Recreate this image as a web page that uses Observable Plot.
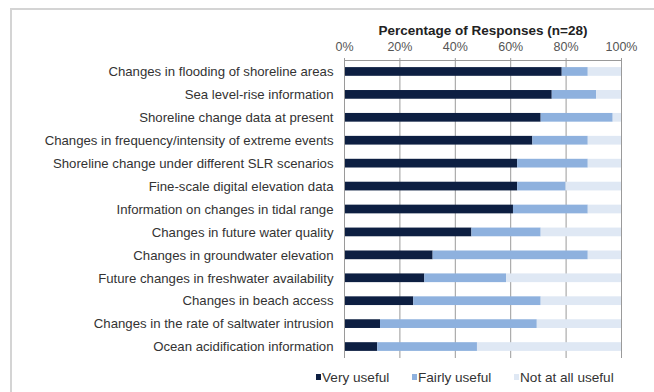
<!DOCTYPE html>
<html>
<head>
<meta charset="utf-8">
<script src="https://cdn.jsdelivr.net/npm/d3@7"></script>
<script src="https://cdn.jsdelivr.net/npm/@observablehq/plot@0.6"></script>
<style>
  html, body { margin: 0; padding: 0; background: #fff; }
  body { font-family: "Liberation Sans", Arial, Helvetica, sans-serif; }
  #wrap { position: relative; width: 654px; height: 392px; overflow: hidden; }
  #border { position: absolute; left: 10px; top: 8px; width: 700px; height: 400px;
            border-top: 2px solid #d4d4d4; border-left: 2px solid #d4d4d4; box-sizing: border-box; }
  #chart { position: absolute; left: 0; top: 0; }
  #legend { position: absolute; left: 0; top: 366px; width: 654px; height: 24px;
            font-size: 13.6px; color: #333; }
  .item { position: absolute; top: 4px; white-space: nowrap; }
  .sw { display: inline-block; width: 5px; height: 6px; margin-right: 1px; vertical-align: 2px; }
</style>
</head>
<body>
<div id="wrap">
  <div id="border"></div>
  <div id="chart"></div>
  <div id="legend"></div>
</div>
<script>
const categories = [
  "Changes in flooding of shoreline areas",
  "Sea level-rise information",
  "Shoreline change data at present",
  "Changes in frequency/intensity of extreme events",
  "Shoreline change under different SLR scenarios",
  "Fine-scale digital elevation data",
  "Information on changes in tidal range",
  "Changes in future water quality",
  "Changes in groundwater elevation",
  "Future changes in freshwater availability",
  "Changes in beach access",
  "Changes in the rate of saltwater intrusion",
  "Ocean acidification information"
];
const veryUseful   = [78.6, 75.0, 71.0, 68.0, 62.5, 62.5, 61.0, 46.0, 32.0, 29.0, 25.0, 13.0, 12.0];
const fairlyUseful = [ 9.4, 16.0, 26.0, 20.0, 25.5, 17.5, 27.0, 25.0, 56.0, 29.5, 46.0, 56.6, 36.0];
const notAtAll     = [12.0,  9.0,  3.0, 12.0, 12.0, 20.0, 12.0, 29.0, 12.0, 41.5, 29.0, 30.4, 52.0];
const seriesNames  = ["Very useful", "Fairly useful", "Not at all useful"];
const seriesColors = ["#0d1f42", "#8eb1de", "#dfe8f4"];
const xTicks = [0, 20, 40, 60, 80, 100];
const title = "Percentage of Responses (n=28)";

const seriesValues = [veryUseful, fairlyUseful, notAtAll];
const data = [];
categories.forEach((c, i) => {
  seriesNames.forEach((s, j) => data.push({category: c, series: s, value: seriesValues[j][i]}));
});

const chart = Plot.plot({
  width: 654,
  height: 366,
  marginLeft: 344,
  marginRight: 33,
  marginTop: 60,
  marginBottom: 8,
  style: {fontFamily: '"Liberation Sans", Arial, Helvetica, sans-serif', background: "transparent"},
  x: {domain: [0, 100]},
  y: {domain: categories, paddingInner: 0.62, paddingOuter: 0.31, round: false},
  color: {domain: seriesNames, range: seriesColors},
  marks: [
    Plot.gridX(xTicks, {stroke: "#9a9a9a", strokeOpacity: 1, strokeWidth: 1}),
    Plot.barX(data, Plot.stackX({x: "value", y: "category", fill: "series", order: seriesNames})),
    Plot.ruleX([0], {stroke: "#9a9a9a"}),
    Plot.frame({anchor: "top", stroke: "#9a9a9a"}),
    Plot.axisX({anchor: "top", ticks: xTicks, tickFormat: d => d + "%", tickSize: 3,
                tickPadding: 7, fontSize: 12.5, color: "#555", stroke: "#9a9a9a", label: null}),
    Plot.axisY({anchor: "left", tickSize: 0, tickPadding: 11, fontSize: 13.2, color: "#333", label: null}),
    Plot.text([title], {frameAnchor: "top", dy: -35, fontSize: 13.5, fontWeight: "bold", fill: "#222"})
  ]
});
document.getElementById("chart").appendChild(chart);

const legendX = [316, 412, 514];
const legend = document.getElementById("legend");
seriesNames.forEach((s, j) => {
  const it = document.createElement("span");
  it.className = "item";
  it.style.left = legendX[j] + "px";
  const sw = document.createElement("span");
  sw.className = "sw";
  sw.style.background = seriesColors[j];
  it.appendChild(sw);
  it.appendChild(document.createTextNode(s));
  legend.appendChild(it);
});
</script>
</body>
</html>
